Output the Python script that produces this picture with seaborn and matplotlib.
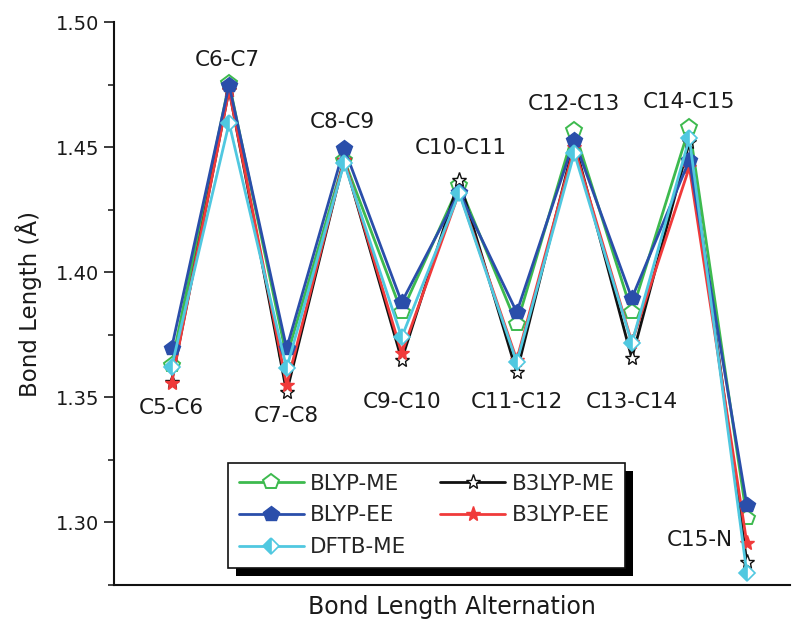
import numpy as np
import pandas as pd
import seaborn as sns
import matplotlib.pyplot as plt
from matplotlib.patches import Rectangle
from matplotlib.ticker import MultipleLocator

bonds = ["C5-C6", "C6-C7", "C7-C8", "C8-C9", "C9-C10", "C10-C11",
         "C11-C12", "C12-C13", "C13-C14", "C14-C15", "C15-N"]

blyp_me = [1.363, 1.4756, 1.366, 1.445, 1.384, 1.4348, 1.3792, 1.4568, 1.384, 1.458, 1.3016]
blyp_ee = [1.3696, 1.4748, 1.3696, 1.4496, 1.388, 1.432, 1.384, 1.4528, 1.3896, 1.4448, 1.3068]
dftb_me = [1.362, 1.4596, 1.3616, 1.4436, 1.374, 1.4316, 1.364, 1.4476, 1.3716, 1.4536, 1.2796]
b3lyp_me = [1.356, 1.473, 1.352, 1.445, 1.365, 1.4368, 1.360, 1.452, 1.3656, 1.452, 1.284]
b3lyp_ee = [1.3556, 1.4728, 1.3548, 1.445, 1.3676, 1.432, 1.365, 1.450, 1.372, 1.442, 1.2916]

# where the bond names sit (x index, bond length)
label_pos = [(0, 1.3456), (0.97, 1.4848), (2.0, 1.3424), (2.96, 1.460), (4.0, 1.348),
             (5.03, 1.4496), (6.0, 1.348), (6.99, 1.4672), (8.0, 1.348), (9.0, 1.468),
             (9.18, 1.2928)]

sns.set_style("ticks")
plt.rcParams['font.family'] = ['DejaVu Sans']

fig = plt.figure(figsize=(7.94, 6.22), dpi=100)
ax = fig.add_axes([0.1436, 0.0595, 0.8514, 0.9051])

x = np.arange(len(bonds))
lw = 2.0

series = [
    ("BLYP-ME", blyp_me, dict(color="#3dba4e", marker="p", markersize=11.5,
                              markerfacecolor="white", markeredgecolor="#3dba4e", markeredgewidth=1.4)),
    ("B3LYP-ME", b3lyp_me, dict(color="#111111", marker="*", markersize=11,
                                markerfacecolor="white", markeredgecolor="#111111", markeredgewidth=1.0)),
    ("B3LYP-EE", b3lyp_ee, dict(color="#f03a3a", marker="*", markersize=11,
                                markerfacecolor="#f03a3a", markeredgecolor="#f03a3a", markeredgewidth=1.0)),
    ("BLYP-EE", blyp_ee, dict(color="#2a4eaa", marker="p", markersize=11.5,
                              markerfacecolor="#2a4eaa", markeredgecolor="#2a4eaa", markeredgewidth=1.0)),
    ("DFTB-ME", dftb_me, dict(color="#50c8e0", marker="D", markersize=8.5, fillstyle="left",
                              markerfacecolor="#50c8e0", markerfacecoloralt="white",
                              markeredgecolor="#50c8e0", markeredgewidth=1.2)),
]

handles = {}
for name, vals, kw in series:
    df = pd.DataFrame({"x": x, "y": vals})
    sns.lineplot(data=df, x="x", y="y", ax=ax, linewidth=lw, label=name, **kw)
    handles[name] = ax.get_lines()[-1]

for name, (lx, ly) in zip(bonds, label_pos):
    ax.text(lx, ly, name, ha="center", va="center", fontsize=15.5, color="#1a1a1a")

ax.set_xlim(-1, 10.75)
ax.set_ylim(1.275, 1.50)
ax.set_xticks([])
ax.yaxis.set_major_locator(MultipleLocator(0.05))
ax.yaxis.set_minor_locator(MultipleLocator(0.025))
ax.tick_params(axis="y", which="major", length=7, width=1.2, labelsize=14, colors="#1a1a1a", direction="out")
ax.tick_params(axis="y", which="minor", length=4, width=1.2, direction="out")
for side in ["top", "right"]:
    ax.spines[side].set_visible(False)
for side in ["left", "bottom"]:
    ax.spines[side].set_linewidth(1.5)
    ax.spines[side].set_color("#111111")

ax.set_xlabel("Bond Length Alternation", fontsize=17, color="#1a1a1a", labelpad=7)
ax.set_ylabel("Bond Length (Å)", fontsize=16.5, color="#1a1a1a", labelpad=10)

order = ["BLYP-ME", "BLYP-EE", "DFTB-ME", "B3LYP-ME", "B3LYP-EE"]
leg = ax.legend([handles[n] for n in order], order, ncol=2, loc="lower left",
                bbox_to_anchor=(0.169, 0.03, 0.587, 0.181), mode="expand",
                fontsize=15.5, frameon=True, fancybox=False, borderaxespad=0,
                framealpha=1, facecolor="white",
                handlelength=3.0, handletextpad=0.3, columnspacing=0.8,
                labelspacing=0.55, borderpad=0.5)
leg.get_frame().set_edgecolor("#111111")
leg.get_frame().set_linewidth(1.2)

# drop shadow behind the legend box
fig.canvas.draw()
bb = leg.get_window_extent().transformed(ax.transAxes.inverted())
dx = 8 / (ax.bbox.width)
dy = 8 / (ax.bbox.height)
ax.add_patch(Rectangle((bb.x0 + dx, bb.y0 - dy), bb.width, bb.height, transform=ax.transAxes,
                       facecolor="black", edgecolor="none", zorder=4.5, clip_on=False))

fig.savefig("out.png", dpi=100)
